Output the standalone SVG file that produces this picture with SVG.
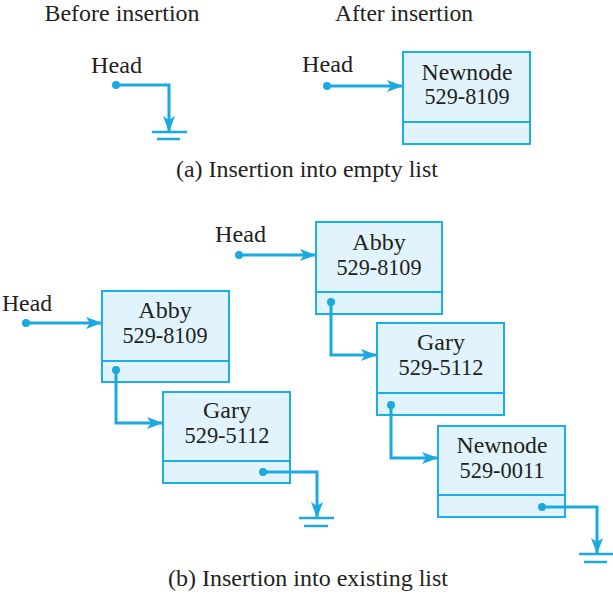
<svg xmlns="http://www.w3.org/2000/svg" width="613" height="600" viewBox="0 0 613 600">
<style>
text{font-family:"Liberation Serif","Times New Roman",serif;fill:#231F20;font-size:24px}
.t{text-anchor:middle}
.box{fill:#E1F3FC;stroke:#1EAEE6;stroke-width:2}
.div{stroke:#1EAEE6;stroke-width:2}
.ln{fill:none;stroke:#1BA9E1;stroke-width:3}
.gnd{stroke:#1BA9E1;stroke-width:2.5}
.dot{fill:#1BA9E1}
</style>
<defs>
<marker id="ah" viewBox="0 0 16 12" refX="15" refY="6" markerWidth="16" markerHeight="12" markerUnits="userSpaceOnUse" orient="auto">
<path d="M0,0 L16,6 L0,12 L4,6 Z" fill="#1BA9E1"/>
</marker>
</defs>
<rect width="613" height="600" fill="#fff"/>
<text x="122" y="21" class="t" textLength="155" lengthAdjust="spacingAndGlyphs">Before insertion</text>
<text x="404" y="21" class="t" textLength="138" lengthAdjust="spacingAndGlyphs">After insertion</text>
<text x="307" y="177" class="t" textLength="262" lengthAdjust="spacingAndGlyphs">(a) Insertion into empty list</text>
<text x="308" y="586" class="t" textLength="280" lengthAdjust="spacingAndGlyphs">(b) Insertion into existing list</text>

<g id="head1"><text x="91" y="73" textLength="51" lengthAdjust="spacingAndGlyphs">Head</text></g>
<g id="head2"><text x="302" y="72" textLength="51" lengthAdjust="spacingAndGlyphs">Head</text></g>
<g id="head3"><text x="2" y="311" textLength="50" lengthAdjust="spacingAndGlyphs">Head</text></g>
<g id="head4"><text x="215" y="242" textLength="51" lengthAdjust="spacingAndGlyphs">Head</text></g>

<g id="newnodeA">
<rect class="box" x="403" y="52" width="127" height="92"/>
<line class="div" x1="403" y1="122" x2="530" y2="122"/>
<text x="467" y="80" class="t" textLength="91" lengthAdjust="spacingAndGlyphs">Newnode</text>
<text x="467" y="104" class="t" textLength="85" lengthAdjust="spacingAndGlyphs">529-8109</text>
</g>
<g id="abby1">
<rect class="box" x="102" y="291" width="127" height="91"/>
<line class="div" x1="102" y1="361" x2="229" y2="361"/>
<text x="165" y="318" class="t">Abby</text>
<text x="165" y="343" class="t" textLength="85" lengthAdjust="spacingAndGlyphs">529-8109</text>
</g>
<g id="gary1">
<rect class="box" x="163" y="392" width="127" height="91"/>
<line class="div" x1="163" y1="461" x2="290" y2="461"/>
<text x="227" y="418" class="t">Gary</text>
<text x="227" y="443" class="t" textLength="85" lengthAdjust="spacingAndGlyphs">529-5112</text>
</g>
<g id="abby2">
<rect class="box" x="316" y="222" width="126" height="92"/>
<line class="div" x1="316" y1="292" x2="442" y2="292"/>
<text x="379" y="250" class="t">Abby</text>
<text x="379" y="275" class="t" textLength="85" lengthAdjust="spacingAndGlyphs">529-8109</text>
</g>
<g id="gary2">
<rect class="box" x="377" y="323" width="127" height="92"/>
<line class="div" x1="377" y1="393" x2="504" y2="393"/>
<text x="441" y="350" class="t">Gary</text>
<text x="441" y="375" class="t" textLength="85" lengthAdjust="spacingAndGlyphs">529-5112</text>
</g>
<g id="newnodeB">
<rect class="box" x="438" y="426" width="127" height="91"/>
<line class="div" x1="438" y1="495" x2="565" y2="495"/>
<text x="502" y="453" class="t" textLength="91" lengthAdjust="spacingAndGlyphs">Newnode</text>
<text x="502" y="478" class="t" textLength="85" lengthAdjust="spacingAndGlyphs">529-0011</text>
</g>

<g id="connectors">
<circle class="dot" cx="116" cy="85" r="4"/>
<path class="ln" d="M116,85 H169 V131" marker-end="url(#ah)"/>
<line class="gnd" x1="152" y1="132" x2="187" y2="132"/>
<line class="gnd" x1="157" y1="139" x2="180" y2="139"/>

<circle class="dot" cx="327" cy="86" r="4"/>
<path class="ln" d="M327,86 H402" marker-end="url(#ah)"/>

<circle class="dot" cx="26" cy="323" r="4"/>
<path class="ln" d="M26,323 H101" marker-end="url(#ah)"/>

<circle class="dot" cx="116" cy="370" r="4"/>
<path class="ln" d="M116,370 V423 H162" marker-end="url(#ah)"/>

<circle class="dot" cx="263" cy="472" r="4"/>
<path class="ln" d="M263,472 H317 V517" marker-end="url(#ah)"/>
<line class="gnd" x1="299" y1="518" x2="334" y2="518"/>
<line class="gnd" x1="304" y1="526" x2="328" y2="526"/>

<circle class="dot" cx="239" cy="255" r="4"/>
<path class="ln" d="M239,255 H315" marker-end="url(#ah)"/>

<circle class="dot" cx="331" cy="302" r="4"/>
<path class="ln" d="M331,302 V355 H376" marker-end="url(#ah)"/>

<circle class="dot" cx="391" cy="405" r="4"/>
<path class="ln" d="M391,405 V458 H437" marker-end="url(#ah)"/>

<circle class="dot" cx="542" cy="507" r="4"/>
<path class="ln" d="M542,507 H597 V553" marker-end="url(#ah)"/>
<line class="gnd" x1="579" y1="554" x2="613" y2="554"/>
<line class="gnd" x1="584" y1="562" x2="607" y2="562"/>
</g>
</svg>
